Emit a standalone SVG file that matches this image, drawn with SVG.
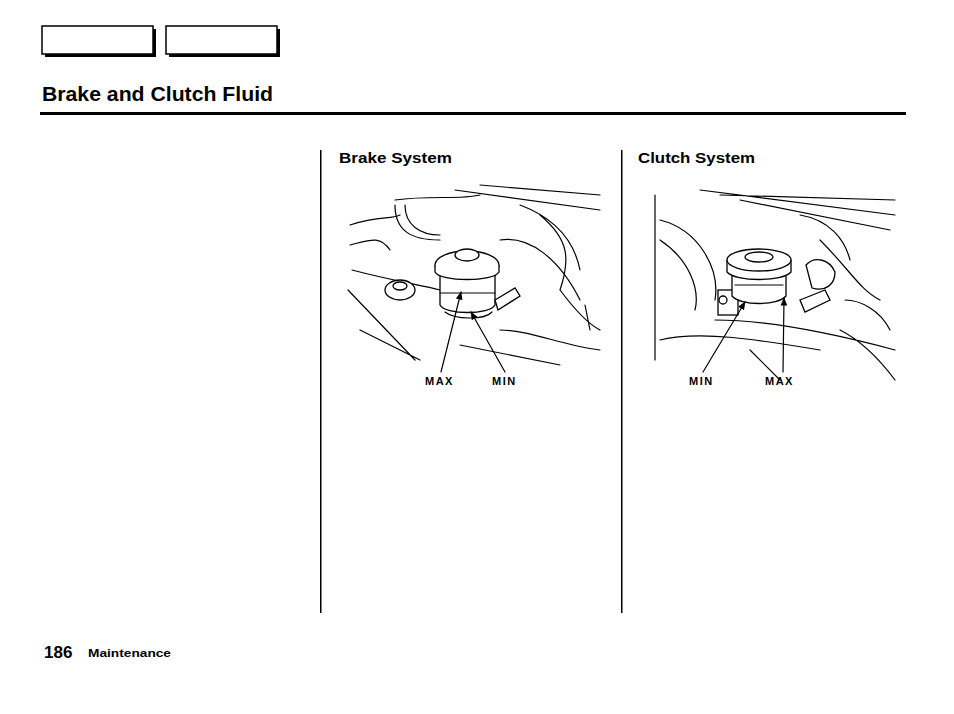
<svg xmlns="http://www.w3.org/2000/svg" width="954" height="714" viewBox="0 0 954 714">
<style>
.t{font-family:"Liberation Sans",Arial,sans-serif;font-weight:bold;fill:#000}
.l{fill:none;stroke:#000;stroke-width:1.2;stroke-linecap:round}
.w{fill:#fff;stroke:#000;stroke-width:1.3}
</style>
<defs><marker id="a" viewBox="0 0 10 10" refX="9" refY="5" markerWidth="7" markerHeight="7" orient="auto"><path d="M0,1 L10,5 L0,9 z" fill="#000"/></marker></defs>
<rect width="954" height="714" fill="#fff"/>
<g id="btn1"><rect x="45" y="29" width="111" height="28" fill="#000"/><rect x="42" y="26" width="111" height="28" fill="#fff" stroke="#000" stroke-width="1.5"/></g>
<g id="btn2"><rect x="169" y="29" width="111" height="28" fill="#000"/><rect x="166" y="26" width="111" height="28" fill="#fff" stroke="#000" stroke-width="1.5"/></g>
<text class="t" x="42" y="101" font-size="20" textLength="231" lengthAdjust="spacingAndGlyphs">Brake and Clutch Fluid</text>
<rect x="40" y="112" width="866" height="3" fill="#000"/>
<rect x="320" y="150" width="1.5" height="463" fill="#000"/>
<rect x="621" y="150" width="1.5" height="463" fill="#000"/>
<text class="t" x="339" y="163" font-size="15" textLength="113" lengthAdjust="spacingAndGlyphs">Brake System</text>
<text class="t" x="638" y="163" font-size="15" textLength="117" lengthAdjust="spacingAndGlyphs">Clutch System</text>
<g id="brake">
<path class="l" d="M350,225 C380,215 390,220 400,215 M395,200 C430,195 460,200 480,195 M455,190 L600,210 M480,185 L600,195 M350,245 C370,240 380,235 390,250 M348,290 L415,360 M352,270 C390,280 420,285 440,290 M520,205 C560,220 575,245 580,270 M540,215 C570,240 570,260 560,290 M560,290 C575,310 590,325 600,330 M500,240 C530,235 560,260 580,300 M585,305 L590,330 M500,330 C530,330 560,345 600,350 M360,330 L420,360 M460,345 L560,365"/>
<path class="l" d="M395,205 C395,230 410,240 440,240 M405,205 C405,225 420,235 440,235"/>
<ellipse class="w" cx="400" cy="290" rx="15" ry="10"/><ellipse class="w" cx="400" cy="286" rx="7" ry="4"/>
<path class="w" d="M440,272 L440,305 C445,315 490,315 495,305 L495,272 z"/>
<path class="l" d="M440,293 L495,293 M445,312 C455,320 485,320 492,312"/>
<ellipse class="w" cx="467" cy="265" rx="32" ry="14"/>
<path class="w" d="M435,265 L435,272 C440,282 494,282 499,272 L499,265"/>
<ellipse class="w" cx="467" cy="255" rx="12" ry="6"/>
<path class="w" d="M495,300 L515,288 L520,296 L498,310 z"/>
<line class="l" x1="441" y1="372" x2="461" y2="292" marker-end="url(#a)"/>
<line class="l" x1="505" y1="372" x2="471" y2="312" marker-end="url(#a)"/>
</g>
<text class="t" x="425" y="385" font-size="11" letter-spacing="1.5">MAX</text>
<text class="t" x="492" y="385" font-size="11" letter-spacing="1.5">MIN</text>
<g id="clutch">
<path class="l" d="M655,195 L655,360 M700,190 L895,215 M720,195 L895,200 M740,200 L890,230 M660,220 C700,230 720,270 715,300 M660,240 C690,260 700,290 695,310 M800,215 C830,220 845,240 850,260 M820,240 C850,270 860,290 880,300 M715,320 C760,320 820,330 895,350 M660,340 C700,330 760,340 820,350 M750,350 L780,380 M840,330 C860,340 880,360 895,380 M845,300 C860,300 880,310 890,330"/>
<rect class="w" x="718" y="290" width="20" height="25"/><circle class="w" cx="723" cy="300" r="4"/>
<path class="w" d="M732,270 L732,296 C740,306 778,306 786,296 L786,270 z"/>
<path class="l" d="M735,285 L783,285"/>
<path class="w" d="M727,260 L727,272 C735,282 783,282 791,272 L791,260"/>
<ellipse class="w" cx="759" cy="260" rx="32" ry="11"/>
<ellipse class="w" cx="759" cy="257" rx="14" ry="5"/>
<path class="w" d="M806,265 C815,255 830,260 835,272 C835,285 825,292 812,288 z"/>
<path class="w" d="M800,300 L825,290 L830,300 L805,312 z"/>
<line class="l" x1="703" y1="372" x2="745" y2="302" marker-end="url(#a)"/>
<line class="l" x1="783" y1="372" x2="784" y2="298" marker-end="url(#a)"/>
</g>
<text class="t" x="689" y="385" font-size="11" letter-spacing="1.5">MIN</text>
<text class="t" x="765" y="385" font-size="11" letter-spacing="1.5">MAX</text>
<text class="t" x="44" y="658" font-size="17">186</text>
<text class="t" x="88" y="657" font-size="11" textLength="83" lengthAdjust="spacingAndGlyphs">Maintenance</text>
</svg>
